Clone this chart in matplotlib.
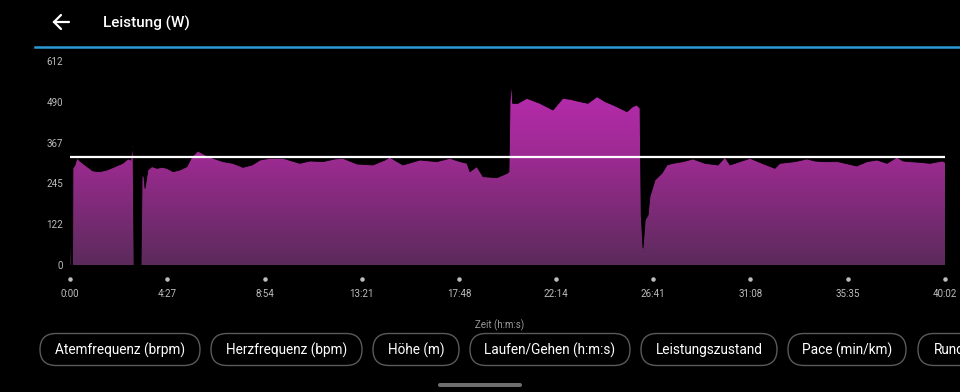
import numpy as np
import matplotlib
matplotlib.use("Agg")
import matplotlib.pyplot as plt
from matplotlib.colors import LinearSegmentedColormap
from matplotlib.patches import FancyBboxPatch, Polygon
from matplotlib.transforms import blended_transform_factory

# power samples (time in s, power in W)
time_s = [0, 1, 4, 7, 8, 14, 19, 27, 41, 63, 82, 102, 124, 145, 159, 167, 173,
          176, 195, 198, 203, 206, 214, 225, 239, 253, 266, 283, 302, 321, 335,
          351, 371, 393, 420, 447, 475, 500, 522, 549, 585, 631, 659, 694, 727,
          749, 788, 832, 865, 878, 914, 961, 1007, 1043, 1071, 1090, 1098, 1117,
          1134, 1172, 1200, 1205, 1208, 1212, 1215, 1230, 1254, 1290, 1326, 1353,
          1373, 1400, 1422, 1447, 1469, 1491, 1510, 1529, 1545, 1556, 1565, 1568,
          1573, 1579, 1587, 1592, 1606, 1625, 1639, 1655, 1683, 1710, 1743, 1779,
          1798, 1812, 1839, 1867, 1900, 1935, 1949, 1990, 2023, 2045, 2067, 2108,
          2160, 2188, 2215, 2243, 2270, 2287, 2306, 2333, 2361, 2396, 2402]
power_w = [0, 141, 0, 0, 290, 300, 320, 312, 300, 282, 280, 285, 295, 305, 318,
           315, 360, 0, 0, 270, 265, 230, 285, 295, 290, 293, 290, 280, 285, 295,
           325, 342, 330, 320, 310, 305, 293, 300, 315, 320, 320, 305, 312, 310,
           318, 320, 303, 300, 315, 323, 300, 315, 310, 320, 310, 305, 280, 295,
           265, 262, 275, 280, 490, 550, 485, 485, 500, 485, 465, 500, 497, 490,
           485, 505, 490, 480, 470, 460, 475, 480, 470, 150, 51, 135, 150, 205,
           255, 275, 300, 305, 310, 318, 305, 300, 323, 300, 310, 320, 305, 290,
           305, 310, 318, 312, 310, 310, 297, 310, 315, 305, 323, 312, 310, 308,
           305, 312, 308]
avg_power = 325

y_ticks = [0, 122, 245, 367, 490, 612]
x_ticks = [0, 267, 534, 801, 1068, 1334, 1601, 1868, 2135, 2402]
x_labels = ["0:00", "4:27", "8:54", "13:21", "17:48", "22:14", "26:41",
            "31:08", "35:35", "40:02"]
chips = ["Atemfrequenz (brpm)", "Herzfrequenz (bpm)", "Höhe (m)",
         "Laufen/Gehen (h:m:s)", "Leistungszustand", "Pace (min/km)", "Rundenzeit"]
chip_left = [40, 211, 373, 470, 641, 788, 918]
chip_right = [200, 362, 459, 630, 777, 906, 1060]

plt.rcParams["font.family"] = ["Roboto", "DejaVu Sans"]

fig = plt.figure(figsize=(9.6, 3.92), dpi=100, facecolor="black")

# overlay for the app chrome, in pixel units
ui = fig.add_axes([0, 0, 1, 1], zorder=0)
ui.set_xlim(0, 960)
ui.set_ylim(392, 0)
ui.axis("off")
ui.set_facecolor("black")

# back arrow and title
ui.plot([54, 69], [22, 22], color="white", lw=1.6, solid_capstyle="round")
ui.plot([61, 54, 61], [15, 22, 29], color="white", lw=1.6,
        solid_capstyle="round", solid_joinstyle="miter")
ui.text(103, 23, "Leistung (W)", color="white", fontsize=11, fontweight="medium",
        va="center", ha="left")
ui.plot([35, 960], [46.5, 46.5], color="#2b9ad6", lw=1.8)

ui.text(500, 325, "Zeit (h:m:s)", color="#9a9a9a", fontsize=7, ha="center", va="center")

for label, x0, x1 in zip(chips, chip_left, chip_right):
    box = FancyBboxPatch((x0, 333.5), x1 - x0, 32, boxstyle="round,pad=0,rounding_size=16",
                         fc="black", ec="#5a5a5a", lw=1.0)
    ui.add_patch(box)
    if x1 > 960:
        ui.text(x0 + 16, 350, label, color="white", fontsize=9.8, ha="left",
                va="center", clip_on=True)
    else:
        ui.text((x0 + x1) / 2, 350, label, color="white", fontsize=9.8,
                ha="center", va="center")

ui.add_patch(FancyBboxPatch((438, 383), 84, 4, boxstyle="round,pad=0,rounding_size=2",
                            fc="#6e6e6e", ec="none"))

# chart
ax = fig.add_axes([70 / 960, (392 - 265) / 392, 875 / 960, 204 / 392], zorder=2)
ax.set_facecolor("none")
ax.set_xlim(0, 2402)
ax.set_ylim(0, 612)
for s in ax.spines.values():
    s.set_visible(False)

cmap = LinearSegmentedColormap.from_list("pw", ["#5b2b5b", "#9a2a8f", "#c22cba"])
grad = np.linspace(0, 1, 256).reshape(-1, 1)
img = ax.imshow(grad, cmap=cmap, origin="lower", aspect="auto",
                extent=[0, 2402, 0, 612], vmin=0, vmax=1, zorder=1)
verts = list(zip(time_s, power_w)) + [(time_s[-1], 0), (time_s[0], 0)]
poly = Polygon(verts, closed=True, fc="none", ec="none")
ax.add_patch(poly)
img.set_clip_path(poly)
ax.plot(time_s, power_w, color="black", lw=0.6, zorder=2)

ax.axhline(avg_power, color="white", lw=1.6, zorder=3)

ax.set_yticks(y_ticks)
ax.set_yticklabels([str(v) for v in y_ticks])
ax.set_xticks(x_ticks)
ax.set_xticklabels(x_labels)
ax.tick_params(axis="y", length=0, pad=5, labelsize=7, labelcolor="#bdbdbd")
ax.tick_params(axis="x", length=0, pad=17, labelsize=7, labelcolor="#bdbdbd")

trans = blended_transform_factory(ax.transData, ax.transAxes)
ax.scatter(x_ticks, [-14 / 204] * len(x_ticks), s=5, color="#bdbdbd",
           transform=trans, clip_on=False, zorder=3)

fig.savefig("out.png", dpi=100, facecolor="black")
